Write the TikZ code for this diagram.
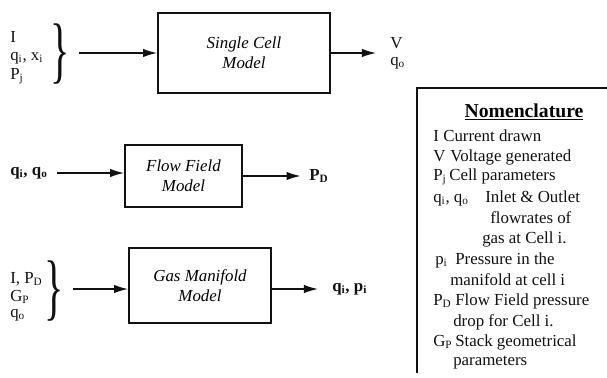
\documentclass[12pt,tikz,border=0pt]{standalone}
\usepackage{fontspec}
\setmainfont{Liberation Serif}
\usepackage{graphicx}
\usepackage{tikz}
\usetikzlibrary{arrows.meta, positioning, calc}
\usepackage{xcolor}
\definecolor{InkBlack}{HTML}{111111}
\tikzset{
    % model boxes
    model/.style={
        rectangle,
        draw=InkBlack,
        line width=1.3pt,
        align=center,
        font=\itshape
    },
    % plain text labels
    sym/.style={
        anchor=west,
        inner sep=0pt,
        text=InkBlack
    },
    symb/.style={
        sym,
        font=\bfseries
    },
    nomen/.style={
        anchor=west,
        inner sep=0pt,
        text=InkBlack
    },
    bracket/.style={
        inner sep=0pt,
        text=InkBlack
    },
    % arrows
    arrow/.style={
        -{Latex[length=10pt,width=6pt]},
        line width=0.9pt,
        draw=InkBlack
    }
}
\newcommand{\sbs}[1]{\textsubscript{#1}}
\newcommand{\bigbrace}{\scalebox{0.55}[1.0]{\fontsize{52}{52}\selectfont\}}}

\begin{document}
\begin{tikzpicture}[x=0.025cm, y=-0.025cm]
    \useasboundingbox (0,0) rectangle (607,377);

    % single cell model
    \node[model, minimum width=4.3cm, minimum height=2cm] (sc) at (244,53) {Single Cell\\Model};
    \node[sym] (in1a) at (10,37) {I};
    \node[sym] (in1b) at (10,58) {q\sbs{i}, x\sbs{i}};
    \node[sym] (in1c) at (10,76) {P\sbs{j}};
    \node[bracket] (br1) at (60,54) {\bigbrace};
    \node[sym] (out1a) at (390,43) {V};
    \node[sym] (out1b) at (390,63) {q\sbs{o}};

    % flow field model
    \node[model, minimum width=2.925cm, minimum height=1.55cm] (ff) at (183.5,176) {Flow Field\\Model};
    \node[symb] (in2) at (10,173) {q\sbs{i}, q\sbs{o}};
    \node[symb] (out2) at (309,176) {P\sbs{D}};

    % gas manifold model
    \node[model, minimum width=3.55cm, minimum height=1.875cm] (gm) at (200,285.5) {Gas Manifold\\Model};
    \node[sym] (in3a) at (10,279) {I, P\sbs{D}};
    \node[sym] (in3b) at (10,297) {G\sbs{P}};
    \node[sym] (in3c) at (10,315) {q\sbs{o}};
    \node[bracket] (br3) at (54,291) {\bigbrace};
    \node[symb] (out3) at (332,289) {q\sbs{i}, p\sbs{i}};

    \draw[arrow] ($(br1.east)+(9,-1)$) -- (sc.west);
    \draw[arrow, shorten >=10pt] (sc.east) -- (sc.east -| out1a.west);
    \draw[arrow] ($(in2.east)+(9,0)$) -- (ff.west |- in2.east);
    \draw[arrow, shorten >=6pt] (ff.east) -- (out2.west);
    \draw[arrow] ($(br3.east)+(9,-2)$) -- ($(br3.east -| gm.west)+(0,-2)$);
    \draw[arrow, shorten >=10pt] (gm.east |- out3.west) -- (out3.west);

    % nomenclature
    \draw[line width=0.8pt, InkBlack] (417,373) -- (417,88) -- (607,88);
    \node[font=\fontsize{14}{16}\selectfont\bfseries] (nt) at (524,112) {\underline{Nomenclature}};
    \node[nomen] (n1) at (433,136) {\makebox[0.25cm][l]{I}Current drawn};
    \node[nomen] (n2) at (433,157) {\makebox[0.425cm][l]{V}Voltage generated};
    \node[nomen] (n3) at (433,177) {\makebox[0.4cm][l]{P\sbs{j}}Cell parameters};
    \node[nomen] (n4) at (433,198) {\makebox[1.3cm][l]{q\sbs{i}, q\sbs{o}}Inlet \& Outlet};
    \node[nomen] (n5) at (490,218) {flowrates of};
    \node[nomen] (n6) at (482,239) {gas at Cell i.};
    \node[nomen] (n7) at (435,260) {\makebox[0.5cm][l]{p\sbs{i}}Pressure in the};
    \node[nomen] (n8) at (450,280) {manifold at cell i};
    \node[nomen] (n9) at (433,301) {\makebox[0.55cm][l]{P\sbs{D}}Flow Field pressure};
    \node[nomen] (n10) at (453,322) {drop for Cell i.};
    \node[nomen] (n11) at (433,342) {\makebox[0.55cm][l]{G\sbs{P}}Stack geometrical};
    \node[nomen] (n12) at (453,363) {parameters};
\end{tikzpicture}
\end{document}
